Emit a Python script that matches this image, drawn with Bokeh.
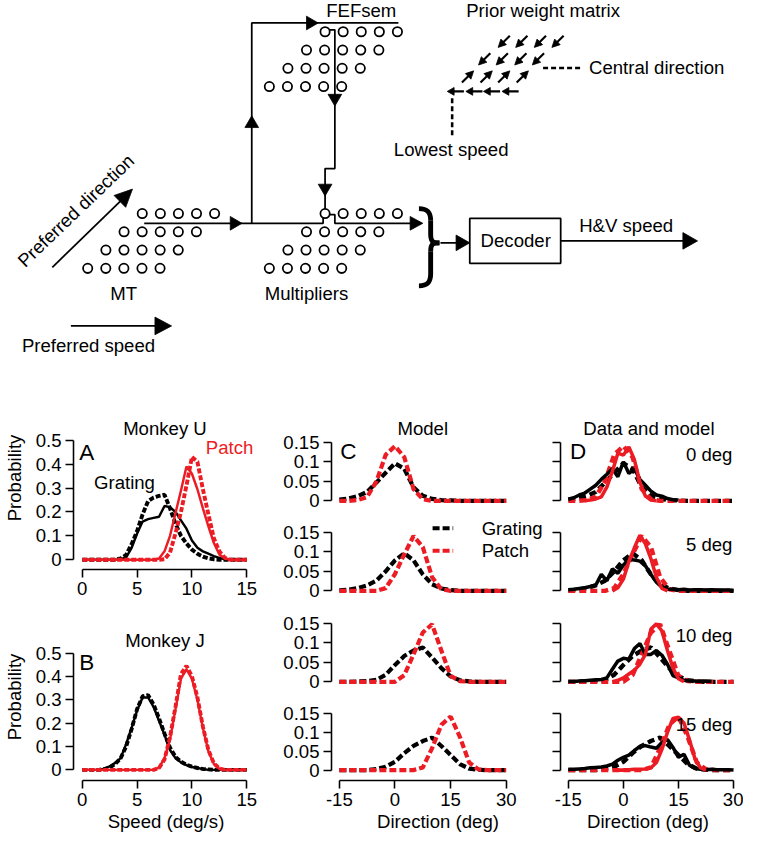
import numpy as np
from bokeh.plotting import figure
from bokeh.layouts import column, row
from bokeh.models import Range1d, FixedTicker, PrintfTickFormatter, CustomJSTickFormatter, Label
from bokeh.core.properties import value
from bokeh.embed import file_html
from bokeh.resources import INLINE

NAN = float("nan")

# ------------------------------------------------------------------ data
speed = [0, 0.5, 1, 1.5, 2, 2.5, 3, 3.5, 4, 4.5, 5, 5.5, 6, 6.5, 7, 7.5,
         8, 8.5, 9, 9.5, 10, 10.5, 11, 11.5, 12, 12.5, 13, 13.5, 14, 14.5, 15]

# Monkey U (panel A)
u_grating_data = [0, 0, 0, 0, 0, 0, 0, 0.002, 0.01, 0.05, 0.11, 0.16, 0.17, 0.175, 0.18, 0.225,
                  0.22, 0.2, 0.165, 0.13, 0.08, 0.05, 0.035, 0.025, 0.015, 0.008, 0.002, 0, 0, 0, 0]
u_grating_model = [0, 0, 0, 0, 0, 0, 0, 0.005, 0.02, 0.065, 0.12, 0.19, 0.245, 0.26, 0.267, 0.272,
                   0.215, 0.15, 0.1, 0.068, 0.042, 0.025, 0.013, 0.006, 0.002, 0, 0, 0, 0, 0, 0]
u_patch_data = [0, 0, 0, 0, 0, 0, 0, 0, 0, 0, 0, 0, 0, 0, 0.005, 0.035,
                0.1, 0.195, 0.29, 0.39, 0.36, 0.295, 0.215, 0.14, 0.07, 0.022, 0.005, 0, 0, 0, 0]
u_patch_model = [0, 0, 0, 0, 0, 0, 0, 0, 0, 0, 0, 0, 0, 0, 0, 0.002,
                 0.03, 0.11, 0.2, 0.31, 0.43, 0.41, 0.295, 0.19, 0.09, 0.035, 0.008, 0, 0, 0, 0]

# Monkey J (panel B)
j_grating_data = [0, 0, 0, 0, 0.005, 0.015, 0.03, 0.05, 0.11, 0.18, 0.255, 0.31, 0.31, 0.27, 0.21, 0.15,
                  0.085, 0.05, 0.032, 0.02, 0.012, 0.008, 0.004, 0, 0, 0, 0, 0, 0, 0, 0]
j_grating_model = [0, 0, 0, 0, 0.003, 0.01, 0.025, 0.05, 0.1, 0.175, 0.26, 0.315, 0.32, 0.28, 0.22, 0.155,
                   0.095, 0.055, 0.035, 0.022, 0.014, 0.008, 0.004, 0.002, 0, 0, 0, 0, 0, 0, 0]
j_patch_data = [0, 0, 0, 0, 0, 0, 0, 0, 0, 0, 0, 0, 0, 0, 0.01, 0.05,
                0.13, 0.26, 0.39, 0.43, 0.39, 0.3, 0.18, 0.08, 0.025, 0.005, 0, 0, 0, 0, 0]
j_patch_model = [0, 0, 0, 0, 0, 0, 0, 0, 0, 0, 0, 0, 0, 0, 0.008, 0.045,
                 0.14, 0.27, 0.41, 0.445, 0.4, 0.31, 0.185, 0.085, 0.028, 0.006, 0, 0, 0, 0, 0]

# Model direction distributions (panels C and dashed lines of D)
dir_model = [-15, -12.5, -10, -7.5, -5, -2.5, 0, 2.5, 5, 7.5, 10, 12.5, 15, 17.5, 20, 22.5, 25, 27.5, 30]
offsets = ["0 deg", "5 deg", "10 deg", "15 deg"]
model_grating = [
    [0.003, 0.006, 0.012, 0.023, 0.047, 0.072, 0.096, 0.082, 0.035, 0.013, 0.005, 0.002, 0.001, 0, 0, 0, 0, 0, 0],
    [0.001, 0.003, 0.007, 0.014, 0.026, 0.05, 0.078, 0.096, 0.078, 0.042, 0.017, 0.006, 0.002, 0, 0, 0, 0, 0, 0],
    [0, 0, 0.001, 0.002, 0.005, 0.018, 0.043, 0.066, 0.08, 0.088, 0.062, 0.035, 0.014, 0.004, 0.001, 0, 0, 0, 0],
    [0, 0, 0, 0, 0.003, 0.009, 0.022, 0.045, 0.064, 0.077, 0.086, 0.064, 0.04, 0.016, 0.004, 0.001, 0, 0, 0],
]
model_patch = [
    [0, 0, 0.002, 0.01, 0.05, 0.118, 0.14, 0.112, 0.03, 0.004, 0, 0, 0, 0, 0, 0, 0, 0, 0],
    [0, 0, 0, 0, 0, 0.007, 0.043, 0.093, 0.14, 0.112, 0.035, 0.004, 0, 0, 0, 0, 0, 0, 0],
    [0, 0, 0, 0, 0, 0, 0, 0.017, 0.07, 0.126, 0.147, 0.08, 0.015, 0.002, 0, 0, 0, 0, 0],
    [0, 0, 0, 0, 0, 0, 0, 0, 0, 0.007, 0.058, 0.12, 0.142, 0.088, 0.02, 0.002, 0, 0, 0],
]

# Measured direction distributions (solid lines of D)
dir_data = [-15, -13.5, -12, -10.5, -9, -7.5, -6, -4.5, -3, -1.5, 0, 1.5, 3, 4.5, 6, 7.5,
            9, 10.5, 12, 13.5, 15, 16.5, 18, 19.5, 21, 22.5, 24, 25.5, 27, 28.5, 30]
data_grating = [
    [0.004, 0.008, 0.015, 0.02, 0.03, 0.04, 0.055, 0.068, 0.082, 0.062, 0.1, 0.07, 0.082, 0.055, 0.04, 0.025,
     0.015, 0.012, 0.006, 0.003, 0.002, NAN, NAN, NAN, NAN, NAN, NAN, NAN, NAN, NAN, NAN],
    [0.003, 0.004, 0.006, 0.008, 0.011, 0.015, 0.042, 0.026, 0.056, 0.045, 0.066, 0.08, 0.079, 0.076, 0.064, 0.042,
     0.022, 0.009, 0.005, 0.004, 0.003, 0.004, 0.002, 0.003, 0.003, 0.002, 0.003, 0.002, 0.002, 0.002, 0.001],
    [0.001, 0.001, 0.002, 0.003, 0.004, 0.005, 0.006, 0.01, 0.032, 0.053, 0.06, 0.058, 0.085, 0.098, 0.07, 0.07,
     0.08, 0.068, 0.045, 0.016, 0.01, 0.004, 0.002, 0.002, 0.001, 0.002, 0.001, NAN, NAN, NAN, NAN],
    [0.002, 0.002, 0.003, 0.004, 0.006, 0.007, 0.008, 0.011, 0.016, 0.026, 0.034, 0.04, 0.052, 0.063, 0.065, 0.061,
     0.058, 0.073, 0.081, 0.06, 0.034, 0.042, 0.013, 0.004, 0.002, 0.001, 0.002, 0.001, 0.001, 0.001, 0],
]
data_patch = [
    [NAN, NAN, NAN, 0, 0.002, 0.005, 0.01, 0.035, 0.075, 0.122, 0.117, 0.138, 0.105, 0.048, 0.012, 0.002,
     0, NAN, NAN, NAN, NAN, NAN, NAN, NAN, NAN, NAN, NAN, NAN, NAN, NAN, NAN],
    [NAN, NAN, NAN, NAN, NAN, NAN, NAN, NAN, 0, 0.008, 0.03, 0.075, 0.11, 0.142, 0.12, 0.082,
     0.035, 0.006, 0, NAN, NAN, NAN, NAN, NAN, NAN, NAN, NAN, NAN, NAN, NAN, NAN],
    [NAN, NAN, NAN, NAN, NAN, NAN, NAN, NAN, 0, 0.004, 0.01, 0.02, 0.03, 0.045, 0.07, 0.135,
     0.148, 0.13, 0.08, 0.035, 0.008, 0, NAN, NAN, NAN, NAN, NAN, NAN, NAN, NAN, NAN],
    [NAN, NAN, NAN, NAN, NAN, NAN, NAN, NAN, NAN, 0, 0, 0.001, 0.002, 0.002, 0.003, 0.006,
     0.02, 0.055, 0.1, 0.137, 0.14, 0.125, 0.08, 0.03, 0.006, 0, NAN, NAN, NAN, NAN, NAN],
]

prob_ticks = [0, 0.1, 0.2, 0.3, 0.4, 0.5]
speed_ticks = [0, 5, 10, 15]
dprob_ticks = [0, 0.05, 0.1, 0.15]
dir_ticks = [-15, 0, 15, 30]

# ------------------------------------------------------------------ style
S = 0.978
FONT = "Liberation Sans"
RED = "#ec1c24"
TXT = 19


def sz(v):
    return v * S


def fs(v):
    return f"{v * S:.2f}px"


def make_fig(w, h, l, r, t, b, xr, yr, xaxis=True):
    p = figure(width=w, height=h, x_range=Range1d(*xr), y_range=Range1d(*yr),
               output_backend="svg", toolbar_location=None,
               x_axis_location="below" if xaxis else None, y_axis_location="left",
               min_border_left=round(l * S), min_border_right=round(r * S),
               min_border_top=round(t * S), min_border_bottom=round(b * S),
               outline_line_color=None, background_fill_color="white",
               border_fill_color="white")
    p.grid.visible = False
    return p


def style_axis(ax, ticks, bounds, label=None, show_labels=True, label_standoff=10):
    ax.ticker = FixedTicker(ticks=ticks)
    ax.bounds = bounds
    ax.axis_line_width = sz(1.6)
    ax.axis_line_color = "black"
    ax.major_tick_line_width = sz(1.6)
    ax.major_tick_line_color = "black"
    ax.major_tick_out = round(sz(8))
    ax.major_tick_in = 0
    ax.minor_tick_line_color = None
    ax.major_label_text_font = FONT
    ax.major_label_text_color = "black"
    ax.major_label_text_font_size = fs(TXT)
    if show_labels:
        ax.formatter = PrintfTickFormatter(format="%g")
        ax.major_label_standoff = round(sz(4))
    else:
        ax.formatter = CustomJSTickFormatter(code="return '';")
        ax.major_label_standoff = 0
    if label:
        ax.axis_label = label
        ax.axis_label_text_font = FONT
        ax.axis_label_text_font_size = fs(TXT)
        ax.axis_label_text_font_style = "normal"
        ax.axis_label_text_color = "black"
        ax.axis_label_standoff = round(sz(label_standoff))


def lab(p, x, y, text, size=TXT, align="left", color="black"):
    p.add_layout(Label(x=x, y=y, text=text, text_font=FONT, text_font_size=fs(size),
                       text_align=align, text_baseline="middle", text_color=color))


# ------------------------------------------------------------------ schematic
sch = figure(width=743, height=386, x_range=Range1d(0, 760), y_range=Range1d(395, 0),
             output_backend="svg", toolbar_location=None, x_axis_location=None,
             y_axis_location=None, min_border=0, outline_line_color=None)
sch.grid.visible = False

LW = sz(1.8)
# connection wires
wires = [
    [(147, 228), (330, 228), (330, 222)],
    [(257, 228), (257, 23), (407, 23)],
    [(336, 30), (342, 30), (342, 172), (332, 172), (332, 213)],
    [(336, 219), (342, 219), (342, 228), (426, 228)],
    [(450, 248), (470, 248)],
    [(573, 246), (703, 246)],
    [(53, 273), (124, 204)],
    [(72, 333), (162, 333)],
]
sch.multi_line(xs=[[pt[0] for pt in w] for w in wires], ys=[[pt[1] for pt in w] for w in wires],
               line_color="black", line_width=LW)


def tri(tip, d, L, W):
    dx, dy = d
    n = (dx * dx + dy * dy) ** 0.5
    dx, dy = dx / n, dy / n
    bx, by = tip[0] - L * dx, tip[1] - L * dy
    return ([tip[0], bx - W * dy, bx + W * dy], [tip[1], by + W * dx, by - W * dx])


heads = [((247, 228), (1, 0), 12, 7), ((257, 118), (0, -1), 12, 7), ((325, 23), (1, 0), 12, 7),
         ((342, 108), (0, 1), 12, 7), ((332, 200), (0, 1), 12, 7), ((432, 228), (1, 0), 13, 7),
         ((480, 248), (1, 0), 14, 8), ((713, 246), (1, 0), 15, 8.5),
         ((135, 193), (82, -80), 18, 8.5), ((175, 333), (1, 0), 17, 9)]
hx, hy = [], []
for tip, d, L, W in heads:
    a, b = tri(tip, d, L, W)
    hx.append(a)
    hy.append(b)

# prior weight matrix arrows
prior_x, prior_y = [], []
for y0, xs, d in [(42, [515, 533, 552, 570], (-1, 1)), (60, [495, 513, 532, 550], (-1, 1)),
                  (78, [478, 497, 515, 534], (1, -1))]:
    for x0 in xs:
        tail = (x0 - 6 * d[0], y0 - 6 * d[1])
        tip = (x0 + 6 * d[0], y0 + 6 * d[1])
        prior_x.append([tail[0], tip[0] - 4 * d[0]])
        prior_y.append([tail[1], tip[1] - 4 * d[1]])
        a, b = tri(tip, d, 8, 4)
        hx.append(a)
        hy.append(b)
for x0 in [457, 476, 494, 513]:
    prior_x.append([x0 + 17, x0 + 5])
    prior_y.append([93, 93])
    a, b = tri((x0, 93), (-1, 0), 7, 4)
    hx.append(a)
    hy.append(b)
sch.multi_line(xs=prior_x, ys=prior_y, line_color="black", line_width=sz(2.2))
sch.patches(xs=hx, ys=hy, fill_color="black", line_color="black", line_width=sz(0.8))

# dashed pointers
sch.multi_line(xs=[[555, 593], [462, 462]], ys=[[69, 69], [100, 138]], line_color="black",
               line_width=sz(2.6), line_dash="5 3")

# neuron populations
GRID_DX, GRID_DY = 18.5, 18.7
populations = [(145, 218, 18.6), (332, 32, 19.0), (332, 218, 19.0)]
cxs, cys = [], []
for x0, y0, shift in populations:
    for r in range(4):
        for c in range(5):
            cxs.append(x0 - r * shift + c * GRID_DX)
            cys.append(y0 + r * GRID_DY)
sch.scatter(cxs, cys, marker="circle", size=sz(9.5), fill_color="white", line_color="black",
            line_width=sz(1.8))

# brace
sch.bezier(x0=[428, 449, 449, 428], y0=[213, 248, 248, 292],
           x1=[440, 440, 440, 440], y1=[225, 239, 257, 280],
           cx0=[437, 443, 443, 437], cy0=[213, 248, 248, 292],
           cx1=[440, 440, 440, 440], cy1=[217, 248, 248, 288],
           line_color="black", line_width=sz(5))
sch.segment(x0=[440, 440], y0=[225, 257], x1=[440, 440], y1=[239, 280],
            line_color="black", line_width=sz(5))

# decoder box
sch.quad(left=[480], right=[573], top=[223], bottom=[269], fill_color=None,
         line_color="black", line_width=LW)

sch_texts = [("FEFsem", 369, 10.5, "center"), ("Prior weight matrix", 555, 10.5, "center"),
             ("Central direction", 602, 69, "left"), ("Lowest speed", 461, 152, "center"),
             ("MT", 126, 300, "center"), ("Multipliers", 313, 300, "center"),
             ("H&V speed", 640, 230, "center"), ("Decoder", 527, 246, "center"),
             ("Preferred speed", 90, 353, "center")]
for t, x, y, al in sch_texts:
    sch.text(x=[x], y=[y], text=[t], text_font=value(FONT), text_font_size=fs(19),
             text_align=al, text_baseline="middle", text_color="black")
sch.text(x=[77], y=[215], text=["Preferred direction"], angle=0.765, text_font=value(FONT),
         text_font_size=fs(19), text_align="center", text_baseline="middle", text_color="black")

# ------------------------------------------------------------------ panels A, B
XR_SPEED = (-0.8, 16.07)
pA = make_fig(260, 227, 74, 2, 0, 45, XR_SPEED, (-0.041, 0.7254))
pB = make_fig(260, 221, 74, 2, 0, 53, XR_SPEED, (-0.0455, 0.669))
for p, gd, gm, pd, pm in [(pA, u_grating_data, u_grating_model, u_patch_data, u_patch_model),
                          (pB, j_grating_data, j_grating_model, j_patch_data, j_patch_model)]:
    p.line(speed, np.array(gd), line_color="black", line_width=sz(2.5))
    p.line(speed, np.array(gm), line_color="black", line_width=sz(4), line_dash="5 2")
    p.line(speed, np.array(pd), line_color=RED, line_width=sz(2.5))
    p.line(speed, np.array(pm), line_color=RED, line_width=sz(4), line_dash="5 2")
    style_axis(p.yaxis[0], prob_ticks, (0, 0.5), label="Probability", label_standoff=8)
style_axis(pA.xaxis[0], speed_ticks, (0, 15))
style_axis(pB.xaxis[0], speed_ticks, (0, 15), label="Speed (deg/s)", label_standoff=2)

lab(pA, 7.54, 0.549, "Monkey U", align="center")
lab(pA, -0.27, 0.451, "A", size=23)
lab(pA, 11.27, 0.471, "Patch", color=RED)
lab(pA, 1.07, 0.324, "Grating")
lab(pB, 7.54, 0.554, "Monkey J", align="center")
lab(pB, -0.27, 0.459, "B", size=23)

# ------------------------------------------------------------------ panels C, D
row_h = [130, 90, 90, 138]
row_bottom = [0, 0, 0, 52]
row_yr = [(-0.04, 0.2925), (-0.04, 0.19), (-0.0375, 0.1925), (-0.0275, 0.195)]
XR_C = (-17.12, 40.32)
XR_D = (-17.12, 30.53)
c_figs, d_figs = [], []
for i in range(4):
    last = i == 3
    pc = make_fig(284, row_h[i], 73, 0, 0, row_bottom[i], XR_C, row_yr[i], xaxis=last)
    pd_ = make_fig(199, row_h[i], 16, 8, 0, row_bottom[i], XR_D, row_yr[i], xaxis=last)
    pc.line(dir_model, model_grating[i], line_color="black", line_width=sz(4.3), line_dash="7 3")
    pc.line(dir_model, model_patch[i], line_color=RED, line_width=sz(4.3), line_dash="7 3")
    pd_.line(dir_model, model_grating[i], line_color="black", line_width=sz(4.5), line_dash="7 4")
    pd_.line(dir_model, model_patch[i], line_color=RED, line_width=sz(4.5), line_dash="7 4")
    pd_.line(dir_data, np.array(data_grating[i]), line_color="black", line_width=sz(3.6))
    pd_.line(dir_data, np.array(data_patch[i]), line_color=RED, line_width=sz(3.6))
    style_axis(pc.yaxis[0], dprob_ticks, (0, 0.15))
    style_axis(pd_.yaxis[0], dprob_ticks, (0, 0.15), show_labels=False)
    if last:
        style_axis(pc.xaxis[0], dir_ticks, (-15, 30), label="Direction (deg)", label_standoff=2)
        style_axis(pd_.xaxis[0], dir_ticks, (-15, 30), label="Direction (deg)", label_standoff=2)
    lab(pd_, 29.7, 0.1175 if i < 3 else 0.12, offsets[i], align="right")
    c_figs.append(pc)
    d_figs.append(pd_)

lab(c_figs[0], 7.49, 0.185, "Model", align="center")
lab(c_figs[0], -14.74, 0.125, "C", size=23)
lab(d_figs[0], 6.96, 0.185, "Data and model", align="center")
lab(d_figs[0], -14.5, 0.125, "D", size=23)

# legend of panel C
c_figs[1].line([10.14, 15.7], [0.16, 0.16], line_color="black", line_width=sz(4.3), line_dash="7 3")
c_figs[1].line([10.14, 15.7], [0.1025, 0.1025], line_color=RED, line_width=sz(4.3), line_dash="7 3")
lab(c_figs[1], 23.37, 0.16, "Grating")
lab(c_figs[1], 23.37, 0.1025, "Patch")

layout = column(sch, row(column(pA, pB), column(*c_figs), column(*d_figs)))
open("out.html", "w").write(file_html(layout, INLINE, title="Model figure"))
